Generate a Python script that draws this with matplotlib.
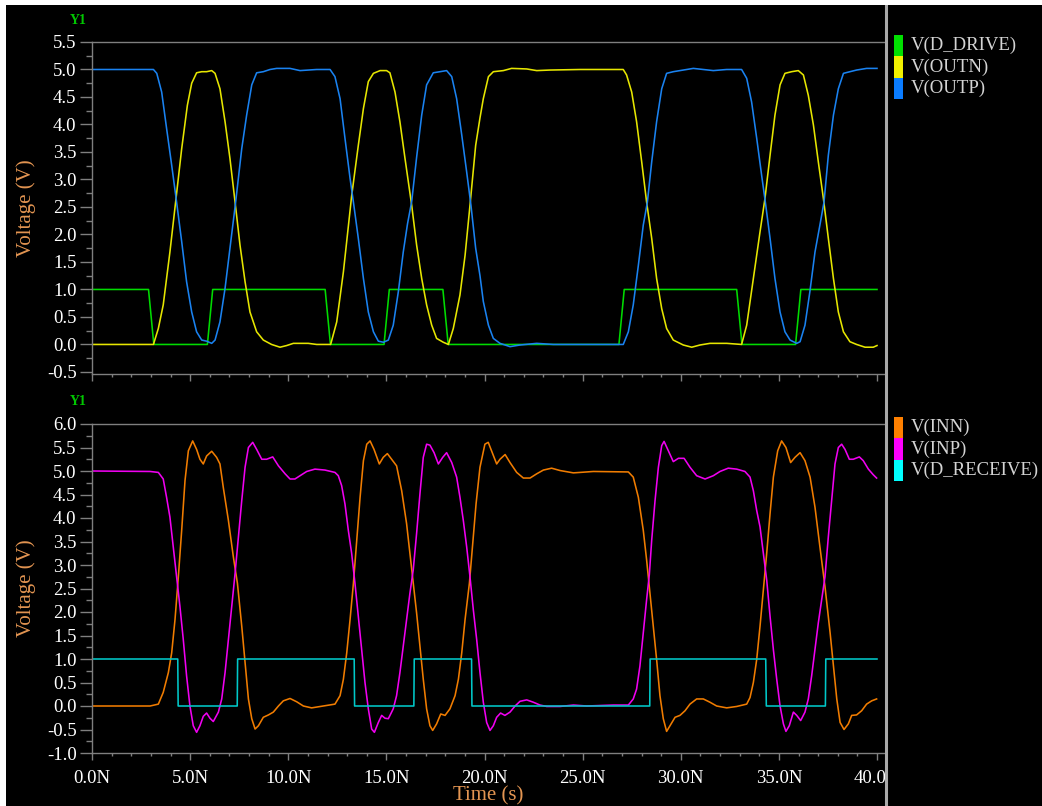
import numpy as np
import matplotlib
matplotlib.use("Agg")
import matplotlib.pyplot as plt
from matplotlib.patches import Rectangle
from matplotlib.lines import Line2D
from matplotlib.ticker import MultipleLocator, FuncFormatter

# ---- waveform samples: (time in ns, voltage in V) ----
d_drive = [(0, 1), (2.88, 1), (3.15, 0), (5.88, 0), (6.15, 1), (11.88, 1), (12.15, 0),
           (14.88, 0), (15.15, 1), (17.88, 1), (18.15, 0), (26.85, 0), (27.12, 1),
           (32.85, 1), (33.12, 0), (35.85, 0), (36.12, 1), (40.0, 1)]

outn = [(0, 0), (3.13, 0), (3.38, 0.29), (3.63, 0.72), (3.97, 1.68), (4.28, 2.65), (4.57, 3.56),
        (4.86, 4.35), (5.08, 4.75), (5.33, 4.94), (5.59, 4.96), (5.84, 4.96), (6.10, 4.98),
        (6.27, 4.93), (6.52, 4.65), (6.78, 4.05), (7.03, 3.38), (7.29, 2.59), (7.54, 1.81),
        (7.80, 1.14), (8.05, 0.59), (8.39, 0.23), (8.73, 0.08), (9.15, 0.0), (9.58, -0.05),
        (9.92, -0.02), (10.26, 0.02), (11.02, 0.02), (11.45, 0.0), (12.16, 0.0), (12.47, 0.41),
        (12.81, 1.32), (13.23, 2.70), (13.57, 3.62), (13.83, 4.29), (14.08, 4.78), (14.34, 4.93),
        (14.68, 4.98), (15.01, 4.98), (15.18, 4.94), (15.44, 4.59), (15.69, 4.05), (15.95, 3.38),
        (16.29, 2.53), (16.54, 1.81), (16.80, 1.20), (17.05, 0.72), (17.31, 0.35), (17.56, 0.11),
        (17.90, 0.04), (18.16, 0.0), (18.41, 0.29), (18.75, 0.90), (19.01, 1.62), (19.26, 2.53),
        (19.55, 3.62), (19.77, 4.12), (19.94, 4.47), (20.20, 4.87), (20.45, 4.96), (20.96, 4.98),
        (21.38, 5.02), (22.15, 5.01), (22.66, 4.98), (23.34, 4.99), (24.87, 5.0), (27.07, 5.0),
        (27.24, 4.90), (27.50, 4.59), (27.75, 4.05), (28.01, 3.32), (28.26, 2.59), (28.52, 1.93),
        (28.77, 1.20), (29.03, 0.65), (29.28, 0.29), (29.62, 0.08), (30.13, -0.01), (30.56, -0.05),
        (30.98, -0.01), (31.49, 0.02), (32.34, 0.02), (33.10, 0.0), (33.36, 0.35), (33.70, 1.20),
        (34.04, 2.05), (34.29, 2.65), (34.55, 3.44), (34.80, 4.17), (35.06, 4.72), (35.31, 4.93),
        (35.65, 4.96), (35.99, 4.98), (36.25, 4.90), (36.50, 4.53), (36.76, 3.99), (37.01, 3.32),
        (37.27, 2.65), (37.52, 1.93), (37.78, 1.20), (38.03, 0.59), (38.29, 0.23), (38.62, 0.05),
        (38.96, 0.0), (39.39, -0.05), (39.81, -0.05), (40.0, -0.02)]

outp = [(0, 5.0), (3.13, 5.0), (3.30, 4.93), (3.55, 4.59), (3.80, 3.93), (4.06, 3.26), (4.31, 2.59),
        (4.57, 1.87), (4.82, 1.14), (5.08, 0.59), (5.33, 0.23), (5.59, 0.08), (5.84, 0.06),
        (6.10, 0.02), (6.27, 0.08), (6.52, 0.41), (6.78, 1.02), (7.03, 1.75), (7.32, 2.59),
        (7.63, 3.56), (7.88, 4.17), (8.14, 4.72), (8.39, 4.94), (8.73, 4.96), (9.07, 5.0),
        (9.41, 5.02), (10.09, 5.02), (10.60, 4.98), (11.45, 5.0), (12.13, 5.0), (12.38, 4.87),
        (12.64, 4.47), (12.89, 3.75), (13.15, 3.02), (13.32, 2.59), (13.57, 1.93), (13.83, 1.20),
        (14.08, 0.59), (14.34, 0.23), (14.59, 0.06), (14.85, 0.04), (15.10, 0.08), (15.35, 0.35),
        (15.61, 0.96), (15.86, 1.68), (16.08, 2.20), (16.29, 2.60), (16.54, 3.40), (16.80, 4.17),
        (17.05, 4.72), (17.39, 4.94), (17.73, 4.96), (18.07, 4.98), (18.33, 4.87), (18.58, 4.47),
        (18.84, 3.81), (19.09, 3.14), (19.31, 2.53), (19.55, 1.75), (19.77, 1.25), (19.94, 0.78),
        (20.20, 0.35), (20.45, 0.11), (20.79, 0.02), (21.30, -0.04), (21.81, -0.01), (22.66, 0.02),
        (23.51, 0.0), (27.07, 0.0), (27.33, 0.23), (27.58, 0.72), (27.84, 1.44), (28.09, 2.17),
        (28.30, 2.59), (28.52, 3.32), (28.77, 4.05), (29.03, 4.65), (29.28, 4.93), (29.62, 4.96),
        (30.13, 4.99), (30.64, 5.02), (31.66, 4.98), (32.34, 5.0), (33.10, 5.0), (33.36, 4.84),
        (33.61, 4.41), (33.87, 3.75), (34.12, 3.08), (34.31, 2.59), (34.55, 1.93), (34.80, 1.20),
        (35.06, 0.59), (35.31, 0.23), (35.57, 0.08), (35.91, 0.02), (36.08, 0.05), (36.33, 0.35),
        (36.58, 0.96), (36.84, 1.68), (37.09, 2.17), (37.30, 2.59), (37.52, 3.44), (37.78, 4.17),
        (38.03, 4.65), (38.29, 4.93), (38.62, 4.96), (38.96, 4.99), (39.47, 5.02), (40.0, 5.02)]

inn = [(0, 0), (2.96, 0), (3.38, 0.04), (3.63, 0.29), (3.89, 0.71), (4.06, 1.13), (4.23, 1.84),
       (4.40, 2.75), (4.57, 3.74), (4.74, 4.80), (4.91, 5.43), (5.13, 5.64), (5.33, 5.46),
       (5.50, 5.25), (5.67, 5.15), (5.84, 5.32), (6.10, 5.42), (6.35, 5.29), (6.52, 5.15),
       (6.69, 4.65), (6.95, 3.95), (7.20, 3.18), (7.41, 2.61), (7.63, 1.70), (7.80, 0.92),
       (7.97, 0.15), (8.14, -0.27), (8.31, -0.49), (8.48, -0.42), (8.73, -0.24), (8.99, -0.19),
       (9.24, -0.13), (9.50, 0.0), (9.75, 0.11), (10.09, 0.16), (10.43, 0.09), (10.77, 0.0),
       (11.19, -0.04), (11.79, 0.0), (12.38, 0.04), (12.64, 0.22), (12.81, 0.57), (12.98, 1.13),
       (13.15, 1.84), (13.32, 2.61), (13.49, 3.53), (13.66, 4.44), (13.83, 5.22), (14.00, 5.57),
       (14.17, 5.64), (14.37, 5.46), (14.64, 5.15), (14.84, 5.29), (15.05, 5.37), (15.27, 5.25),
       (15.52, 5.11), (15.78, 4.58), (16.03, 3.88), (16.20, 3.25), (16.37, 2.61), (16.54, 1.98),
       (16.71, 1.27), (16.88, 0.57), (17.05, -0.06), (17.22, -0.42), (17.36, -0.52), (17.56, -0.38),
       (17.77, -0.17), (17.99, -0.20), (18.24, -0.06), (18.50, 0.22), (18.67, 0.57), (18.84, 1.13),
       (19.01, 1.84), (19.23, 2.61), (19.40, 3.46), (19.57, 4.30), (19.77, 5.08), (20.02, 5.57),
       (20.19, 5.61), (20.36, 5.43), (20.62, 5.15), (20.79, 5.25), (21.05, 5.35), (21.30, 5.18),
       (21.64, 4.97), (21.98, 4.85), (22.32, 4.85), (22.66, 4.94), (23.00, 5.02), (23.42, 5.06),
       (23.85, 5.01), (24.53, 4.96), (25.55, 4.99), (27.33, 4.98), (27.58, 4.87), (27.84, 4.44),
       (28.09, 3.74), (28.26, 3.11), (28.43, 2.40), (28.60, 1.70), (28.77, 0.99), (28.94, 0.22),
       (29.11, -0.27), (29.28, -0.54), (29.45, -0.42), (29.71, -0.24), (29.96, -0.20),
       (30.22, -0.10), (30.47, 0.04), (30.81, 0.15), (31.15, 0.15), (31.49, 0.08), (31.83, 0.0),
       (32.34, -0.04), (32.85, -0.01), (33.36, 0.04), (33.53, 0.18), (33.70, 0.50), (33.87, 0.99),
       (34.04, 1.70), (34.21, 2.47), (34.38, 3.25), (34.55, 4.09), (34.72, 4.87), (34.94, 5.43),
       (35.14, 5.64), (35.36, 5.50), (35.60, 5.18), (35.82, 5.29), (36.08, 5.39), (36.33, 5.22),
       (36.59, 4.87), (36.84, 4.23), (37.09, 3.39), (37.35, 2.54), (37.61, 1.56), (37.78, 0.85),
       (37.95, 0.15), (38.12, -0.35), (38.32, -0.50), (38.54, -0.38), (38.71, -0.20),
       (38.96, -0.19), (39.22, -0.10), (39.47, 0.04), (39.73, 0.11), (39.98, 0.15)]

inp = [(0, 5.0), (2.96, 4.99), (3.38, 4.97), (3.63, 4.83), (3.80, 4.44), (3.97, 4.02), (4.14, 3.39),
       (4.31, 2.75), (4.48, 2.12), (4.65, 1.42), (4.82, 0.64), (4.99, 0.0), (5.16, -0.42),
       (5.33, -0.56), (5.50, -0.42), (5.67, -0.22), (5.84, -0.15), (6.01, -0.26), (6.18, -0.33),
       (6.44, -0.13), (6.61, 0.15), (6.78, 0.71), (6.95, 1.42), (7.12, 2.12), (7.29, 2.82),
       (7.46, 3.60), (7.63, 4.37), (7.80, 5.08), (7.97, 5.50), (8.19, 5.61), (8.39, 5.46),
       (8.65, 5.25), (8.90, 5.25), (9.21, 5.30), (9.50, 5.11), (9.84, 4.94), (10.09, 4.83),
       (10.34, 4.83), (10.60, 4.90), (10.94, 4.99), (11.36, 5.04), (11.87, 5.02), (12.38, 4.97),
       (12.55, 4.90), (12.72, 4.69), (12.89, 4.30), (13.06, 3.74), (13.23, 3.25), (13.40, 2.61),
       (13.57, 1.91), (13.74, 1.20), (13.91, 0.50), (14.08, -0.06), (14.25, -0.49), (14.39, -0.56),
       (14.59, -0.35), (14.76, -0.20), (14.93, -0.26), (15.10, -0.27), (15.35, -0.06),
       (15.52, 0.22), (15.69, 0.71), (15.86, 1.27), (16.03, 1.84), (16.20, 2.40), (16.37, 2.90),
       (16.54, 3.67), (16.71, 4.51), (16.88, 5.29), (17.05, 5.57), (17.22, 5.55), (17.43, 5.39),
       (17.65, 5.15), (17.87, 5.29), (18.07, 5.39), (18.33, 5.18), (18.58, 4.87), (18.75, 4.44),
       (18.92, 3.95), (19.09, 3.39), (19.26, 2.75), (19.43, 2.05), (19.60, 1.42), (19.77, 0.71),
       (19.94, 0.08), (20.11, -0.35), (20.28, -0.52), (20.45, -0.42), (20.62, -0.24),
       (20.82, -0.15), (21.04, -0.20), (21.30, -0.13), (21.56, 0.0), (21.81, 0.10), (22.15, 0.13),
       (22.49, 0.08), (22.83, 0.02), (23.17, -0.01), (23.85, -0.01), (24.53, 0.02), (25.21, 0.0),
       (26.56, 0.02), (27.33, 0.02), (27.58, 0.15), (27.75, 0.36), (27.92, 0.85), (28.09, 1.56),
       (28.26, 2.26), (28.40, 2.80), (28.52, 3.53), (28.69, 4.37), (28.86, 5.08), (29.03, 5.54),
       (29.15, 5.63), (29.37, 5.43), (29.62, 5.20), (29.88, 5.27), (30.17, 5.27), (30.47, 5.08),
       (30.81, 4.90), (31.24, 4.83), (31.66, 4.90), (32.00, 4.99), (32.42, 5.06), (32.85, 5.04),
       (33.27, 4.99), (33.53, 4.87), (33.70, 4.58), (33.87, 4.16), (34.04, 3.81), (34.21, 3.25),
       (34.38, 2.68), (34.55, 1.91), (34.72, 1.20), (34.89, 0.57), (35.06, 0.0), (35.23, -0.38),
       (35.36, -0.54), (35.53, -0.42), (35.74, -0.13), (35.91, -0.20), (36.11, -0.31),
       (36.33, -0.13), (36.50, 0.15), (36.67, 0.64), (36.84, 1.20), (37.01, 1.77), (37.18, 2.26),
       (37.35, 2.75), (37.52, 3.60), (37.69, 4.37), (37.86, 5.15), (38.03, 5.50), (38.20, 5.57),
       (38.37, 5.46), (38.59, 5.25), (38.79, 5.25), (39.10, 5.30), (39.30, 5.22), (39.56, 5.04),
       (39.81, 4.92), (39.98, 4.85)]

d_receive = [(0, 1), (4.37, 1), (4.39, 0), (7.40, 0), (7.42, 1), (13.36, 1), (13.38, 0),
             (16.40, 0), (16.42, 1), (19.34, 1), (19.36, 0), (28.42, 0), (28.44, 1),
             (34.33, 1), (34.36, 0), (37.37, 0), (37.39, 1), (40.0, 1)]

top_series = [("V(D_DRIVE)", d_drive, "#00dc00"),
              ("V(OUTN)", outn, "#e6e600"),
              ("V(OUTP)", outp, "#1a82f0")]
bottom_series = [("V(INN)", inn, "#f07c00"),
                 ("V(INP)", inp, "#f000f0"),
                 ("V(D_RECEIVE)", d_receive, "#00c8c8")]
swatch_colors_top = ["#00e000", "#f0f000", "#0a7cff"]
swatch_colors_bottom = ["#ff8000", "#ff00ff", "#00ffff"]

# ---- styling ----
plt.rcParams["font.family"] = ["Liberation Serif", "DejaVu Serif"]
W, H = 1042, 806
AXIS_GRAY = "#7f7f7f"
LABEL_ORANGE = "#e39552"
TICK_FS = 13.5

fig = plt.figure(figsize=(W / 100, H / 100), dpi=100, facecolor="black")


def px_axes(left, top, right, bottom):
    return fig.add_axes([left / W, 1 - bottom / H, (right - left) / W, (bottom - top) / H])


def style_axes(ax, ymin, ymax, show_xlabels):
    ax.set_facecolor("black")
    ax.set_xlim(0, 40.0 * 793 / 785)
    ax.set_ylim(ymin, ymax)
    for side in ("left", "bottom", "top"):
        ax.spines[side].set_color(AXIS_GRAY)
        ax.spines[side].set_linewidth(1.0)
    ax.spines["right"].set_visible(False)
    ax.xaxis.set_major_locator(MultipleLocator(5))
    ax.xaxis.set_minor_locator(MultipleLocator(1))
    ax.yaxis.set_major_locator(MultipleLocator(0.5))
    ax.yaxis.set_minor_locator(MultipleLocator(0.25))
    ax.yaxis.set_major_formatter(FuncFormatter(lambda v, p: f"{v:.1f}".replace("\u2212", "-")))
    ax.xaxis.set_major_formatter(FuncFormatter(lambda v, p: f"{v:.1f}N"))
    ax.tick_params(axis="y", which="major", length=8.6, width=1.0, color=AXIS_GRAY,
                   labelcolor="white", labelsize=TICK_FS, pad=2.5)
    ax.tick_params(axis="y", which="minor", length=4.3, width=1.0, color=AXIS_GRAY)
    ax.tick_params(axis="x", which="major", length=5, width=1.0, color=AXIS_GRAY,
                   labelcolor="white", labelsize=TICK_FS, pad=7, labelbottom=show_xlabels)
    ax.tick_params(axis="x", which="minor", length=2.5, width=1.0, color=AXIS_GRAY)
    ax.set_ylabel("Voltage (V)", color=LABEL_ORANGE, fontsize=15)
    ax.yaxis.set_label_coords(-0.070, 0.5)


ax_top = px_axes(92, 42, 885, 373.6)
ax_bot = px_axes(92, 424, 885, 753)
style_axes(ax_top, -0.53, 5.5, False)
style_axes(ax_bot, -1.0, 6.0, True)
ax_bot.set_xlabel("Time (s)", color=LABEL_ORANGE, fontsize=15)
ax_bot.xaxis.set_label_coords(0.5, -0.100)

for ax, series in ((ax_top, top_series), (ax_bot, bottom_series)):
    for name, pts, col in series:
        t, v = np.array(pts, dtype=float).T
        ax.plot(t, v, color=col, lw=1.15, solid_joinstyle="round", label=name)

# "Y1" axis tags
for ypx in (20.5, 402):
    fig.text(78 / W, 1 - ypx / H, "Y1", color="#00c800", fontsize=10,
             ha="center", va="center", fontweight="bold")

# legend panel on the right
fig.add_artist(Rectangle((887 / W, 0), 1 - 887 / W, 1, transform=fig.transFigure,
                         facecolor="black", edgecolor="none", zorder=5))
fig.add_artist(Line2D([886 / W, 886 / W], [0, 1], transform=fig.transFigure,
                      color="#a9a9a9", lw=2.2, zorder=6))


def legend_block(series, swatches, top_px, row_px=21.4):
    for i, ((name, _, _), sc) in enumerate(zip(series, swatches)):
        y0 = top_px + i * row_px
        fig.add_artist(Rectangle((894 / W, 1 - (y0 + row_px) / H), 9 / W, row_px / H,
                                 transform=fig.transFigure, facecolor=sc,
                                 edgecolor="none", zorder=7))
        fig.text(911 / W, 1 - (y0 + row_px / 2) / H, name, color="#d4d4d4",
                 fontsize=13.5, ha="left", va="center", zorder=7)


legend_block(top_series, swatch_colors_top, 35)
legend_block(bottom_series, swatch_colors_bottom, 417)

# white page margins around the capture
fig.add_artist(Rectangle((0, 1 - 5 / H), 1, 5 / H, transform=fig.transFigure,
                         facecolor="white", edgecolor="none", zorder=10))
fig.add_artist(Rectangle((0, 0), 6 / W, 1, transform=fig.transFigure,
                         facecolor="white", edgecolor="none", zorder=10))

fig.savefig("out.png", dpi=100, facecolor="black")
